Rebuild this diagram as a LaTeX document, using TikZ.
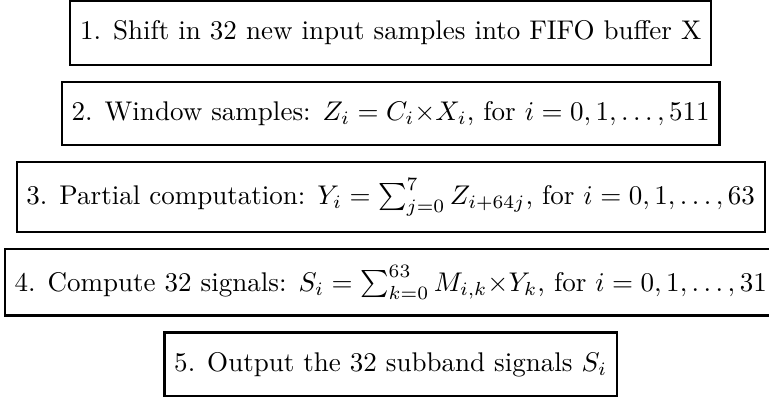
\documentclass[tikz,border=0pt]{standalone}
\usepackage{amsmath,amssymb}
\usepackage{tikz}
\usetikzlibrary{positioning}

\begin{document}
\begin{tikzpicture}[node distance=5.5pt,
  stepbox/.style={draw, thick, inner xsep=3.6pt, inner ysep=6pt,
                  minimum height=23.5pt}]
  \node[stepbox] (shift) {1. Shift in 32 new input samples into FIFO buffer X};
  \node[stepbox, below=of shift] (window)
        {2. Window samples: $Z_i = C_i{\times}X_i$, for $i=0,1,\ldots,511$};
  \node[stepbox, below=of window] (partial)
        {3. Partial computation: $Y_i = \sum_{j=0}^{7} Z_{i+64j}$, for $i=0,1,\ldots,63$};
  \node[stepbox, below=of partial] (matrix)
        {4. Compute 32 signals: $S_i = \sum_{k=0}^{63} M_{i,k}{\times}Y_k$, for $i=0,1,\ldots,31$};
  \node[stepbox, below=of matrix] (output) {5. Output the 32 subband signals $S_i$};
  % crop as in the original picture
  \pgfresetboundingbox
  \useasboundingbox ([xshift=-1.4pt]matrix.west |- shift.north)
        rectangle ([xshift=1.2pt,yshift=-0.4pt]partial.east |- output.south);
\end{tikzpicture}
\end{document}
